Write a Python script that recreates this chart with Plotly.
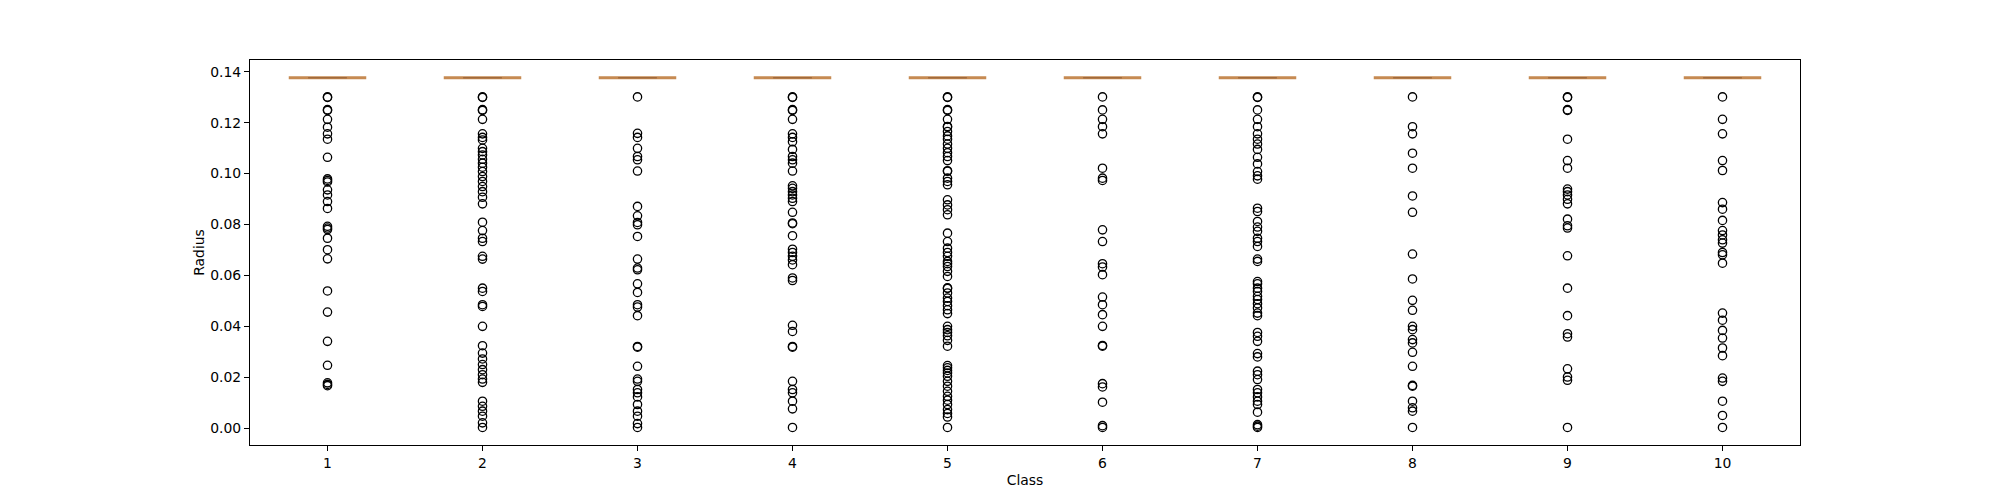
import plotly.graph_objects as go

# クラス番号
classes = [1, 2, 3, 4, 5, 6, 7, 8, 9, 10]

# 箱ひげの値（全部ほぼ同じ位置に潰れている）
box_q1 = [0.1376, 0.1376, 0.1376, 0.1376, 0.1376, 0.1376, 0.1376, 0.1376, 0.1376, 0.1376]
box_median = [0.1376, 0.1376, 0.1376, 0.1376, 0.1376, 0.1376, 0.1376, 0.1376, 0.1376, 0.1376]
box_q3 = [0.1376, 0.1376, 0.1376, 0.1376, 0.1376, 0.1376, 0.1376, 0.1376, 0.1376, 0.1376]

# 外れ値（クラス毎）
fliers_1 = [0.1301, 0.1299, 0.1251, 0.1248, 0.1213, 0.1182, 0.1156, 0.1135, 0.1064, 0.0979,
            0.0973, 0.0967, 0.0936, 0.0916, 0.0890, 0.0863, 0.0793, 0.0786, 0.0780, 0.0746,
            0.0701, 0.0665, 0.0539, 0.0456, 0.0341, 0.0247, 0.0178, 0.0172, 0.0167]
fliers_2 = [0.1301, 0.1299, 0.1251, 0.1248, 0.1213, 0.1156, 0.1142, 0.1132, 0.1099, 0.1086,
            0.1073, 0.1056, 0.1041, 0.1025, 0.1008, 0.0988, 0.0969, 0.0949, 0.0929, 0.0907,
            0.0881, 0.0809, 0.0776, 0.0746, 0.0733, 0.0675, 0.0664, 0.0550, 0.0537, 0.0485,
            0.0478, 0.0400, 0.0324, 0.0295, 0.0272, 0.0250, 0.0230, 0.0210, 0.0193, 0.0180,
            0.0106, 0.0086, 0.0067, 0.0047, 0.0021, 0.0003]
fliers_3 = [0.1301, 0.1158, 0.1142, 0.1099, 0.1067, 0.1054, 0.1010, 0.0871, 0.0834, 0.0808,
            0.0799, 0.0753, 0.0664, 0.0629, 0.0622, 0.0567, 0.0533, 0.0485, 0.0476, 0.0442,
            0.0321, 0.0318, 0.0243, 0.0193, 0.0184, 0.0152, 0.0139, 0.0123, 0.0093, 0.0067,
            0.0047, 0.0018, 0.0003]
fliers_4 = [0.1301, 0.1299, 0.1251, 0.1248, 0.1213, 0.1156, 0.1142, 0.1125, 0.1095, 0.1067,
            0.1054, 0.1041, 0.1010, 0.0952, 0.0942, 0.0929, 0.0916, 0.0903, 0.0890, 0.0848,
            0.0806, 0.0803, 0.0756, 0.0703, 0.0690, 0.0675, 0.0661, 0.0642, 0.0590, 0.0580,
            0.0404, 0.0380, 0.0321, 0.0318, 0.0184, 0.0152, 0.0139, 0.0106, 0.0076, 0.0003]
fliers_5 = [0.1301, 0.1299, 0.1251, 0.1248, 0.1213, 0.1185, 0.1183, 0.1165, 0.1148, 0.1135,
            0.1116, 0.1099, 0.1082, 0.1067, 0.1051, 0.1011, 0.1009, 0.0982, 0.0969, 0.0956,
            0.0897, 0.0877, 0.0858, 0.0838, 0.0766, 0.0733, 0.0707, 0.0690, 0.0675, 0.0655,
            0.0646, 0.0635, 0.0616, 0.0596, 0.0551, 0.0549, 0.0531, 0.0511, 0.0498, 0.0481,
            0.0465, 0.0450, 0.0400, 0.0387, 0.0376, 0.0363, 0.0345, 0.0322, 0.0246, 0.0237,
            0.0227, 0.0217, 0.0204, 0.0184, 0.0165, 0.0145, 0.0125, 0.0110, 0.0093, 0.0073,
            0.0058, 0.0044, 0.0003]
fliers_6 = [0.1301, 0.1250, 0.1213, 0.1184, 0.1156, 0.1021, 0.0982, 0.0973, 0.0779, 0.0733,
            0.0646, 0.0633, 0.0603, 0.0515, 0.0485, 0.0446, 0.0400, 0.0325, 0.0322, 0.0175,
            0.0162, 0.0102, 0.0010, 0.0003]
fliers_7 = [0.1301, 0.1299, 0.1250, 0.1213, 0.1184, 0.1156, 0.1135, 0.1116, 0.1095, 0.1064,
            0.1038, 0.1008, 0.0991, 0.0978, 0.0864, 0.0851, 0.0812, 0.0790, 0.0773, 0.0746,
            0.0733, 0.0714, 0.0664, 0.0655, 0.0576, 0.0567, 0.0550, 0.0537, 0.0518, 0.0505,
            0.0489, 0.0472, 0.0452, 0.0442, 0.0376, 0.0361, 0.0341, 0.0293, 0.0280, 0.0224,
            0.0210, 0.0191, 0.0152, 0.0139, 0.0123, 0.0106, 0.0093, 0.0063, 0.0014, 0.0008,
            0.0003]
fliers_8 = [0.1301, 0.1184, 0.1156, 0.1080, 0.1021, 0.0912, 0.0848, 0.0684, 0.0586, 0.0502,
            0.0463, 0.0400, 0.0387, 0.0348, 0.0335, 0.0298, 0.0243, 0.0168, 0.0165, 0.0106,
            0.0080, 0.0067, 0.0003]
fliers_9 = [0.1301, 0.1299, 0.1251, 0.1248, 0.1135, 0.1051, 0.1021, 0.0939, 0.0929, 0.0916,
            0.0899, 0.0881, 0.0821, 0.0795, 0.0786, 0.0677, 0.0550, 0.0442, 0.0371, 0.0358,
            0.0233, 0.0201, 0.0188, 0.0003]
fliers_10 = [0.1301, 0.1213, 0.1156, 0.1051, 0.1012, 0.0886, 0.0860, 0.0816, 0.0776, 0.0759,
             0.0740, 0.0727, 0.0690, 0.0681, 0.0648, 0.0452, 0.0424, 0.0384, 0.0354, 0.0315,
             0.0285, 0.0197, 0.0184, 0.0106, 0.0050, 0.0003]

fliers = [fliers_1, fliers_2, fliers_3, fliers_4, fliers_5,
          fliers_6, fliers_7, fliers_8, fliers_9, fliers_10]

y_ticks = [0.00, 0.02, 0.04, 0.06, 0.08, 0.10, 0.12, 0.14]

font_name = "DejaVu Sans"
font_size = 13.9

## 外れ値の座標
flier_x = []
flier_y = []
for cls, vals in zip(classes, fliers):
    flier_x += [cls] * len(vals)
    flier_y += vals

plots = []
## 潰れた箱（メディアンと重なって茶色っぽく見える）
plots.append(go.Box(
    x=classes, q1=box_q1, median=box_median, q3=box_q3,
    lowerfence=box_q1, upperfence=box_q3,
    width=0.5, boxpoints=False,
    line=dict(color="#c68a52", width=3),
    fillcolor="rgba(0,0,0,0)",
    hoverinfo="skip", showlegend=False,
))
## キャップ部分（少し濃い）
plots.append(go.Box(
    x=classes, q1=box_q1, median=box_median, q3=box_q3,
    lowerfence=box_q1, upperfence=box_q3,
    width=0.25, boxpoints=False,
    line=dict(color="#a16a3c", width=1.4),
    fillcolor="rgba(0,0,0,0)",
    hoverinfo="skip", showlegend=False,
))
## 外れ値
plots.append(go.Scatter(
    x=flier_x, y=flier_y, mode="markers",
    marker=dict(symbol="circle-open", size=8.3, color="black", line=dict(width=1.3, color="black")),
    showlegend=False,
))

## bodyの8pxマージン分をずらしておく
layout = go.Layout(
    width=1992, height=492,
    margin=dict(l=242, r=200, t=52, b=55),
    paper_bgcolor="white", plot_bgcolor="white",
    font=dict(family=font_name, size=font_size, color="black"),
    boxmode="overlay",
    xaxis=dict(
        range=[0.5, 10.5], tickvals=classes, ticktext=[str(c) for c in classes],
        tickfont=dict(size=font_size),
        showline=True, mirror=True, linecolor="black", linewidth=1.1,
        ticks="outside", ticklen=5, tickwidth=1.1, tickcolor="black",
        showgrid=False, zeroline=False,
        title=dict(text="Class", standoff=5, font=dict(size=font_size)),
    ),
    yaxis=dict(
        range=[-0.0066, 0.1446], tickvals=y_ticks, tickformat=".2f",
        tickfont=dict(size=font_size),
        showline=True, mirror=True, linecolor="black", linewidth=1.1,
        ticks="outside", ticklen=5, tickwidth=1.1, tickcolor="black",
        showgrid=False, zeroline=False,
        title=dict(text="Radius", standoff=2, font=dict(size=font_size)),
    ),
)

fig = go.Figure(data=plots, layout=layout)
fig.write_html("out.html")
